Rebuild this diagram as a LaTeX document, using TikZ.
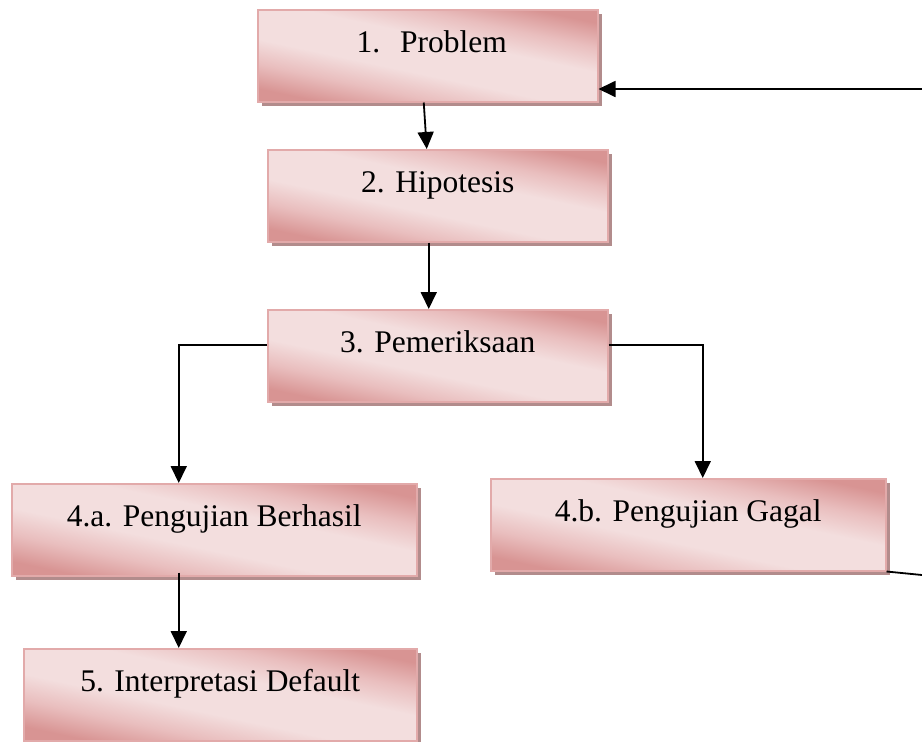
\documentclass[tikz,border=0pt]{standalone}
\usepackage{fontspec}
\setmainfont{Liberation Serif}
\usetikzlibrary{arrows.meta,shadows,calc}
\definecolor{pinkdark}{RGB}{216,148,147}
\definecolor{pinkmid}{RGB}{233,190,190}
\definecolor{pinklight}{RGB}{243,222,222}
\definecolor{pinkedge}{RGB}{226,170,170}
\definecolor{shadowcol}{RGB}{178,140,140}
\pgfdeclarehorizontalshading{pinkshade}{100bp}{color(0bp)=(pinkdark); color(25bp)=(pinkdark); color(34bp)=(pinkmid); color(43bp)=(pinklight); color(57bp)=(pinklight); color(66bp)=(pinkmid); color(75bp)=(pinkdark); color(100bp)=(pinkdark)}
\tikzset{
  stepbox/.style={draw=pinkedge, line width=1.5pt, shading=pinkshade, shading angle=78,
    anchor=north west, inner sep=0pt, text height=43pt, text depth=49pt, align=center,
    font=\fontsize{31.5}{36}\selectfont,
    drop shadow={shadow xshift=4pt, shadow yshift=-4pt, fill=shadowcol, opacity=1}},
  link/.style={draw=black, line width=1.8pt},
  arr/.style={link, -{Triangle[length=17pt,width=16pt]}}
}
\begin{document}
\begin{tikzpicture}[x=1pt,y=-1pt]
\useasboundingbox (0,0) rectangle (922,742);
\node[stepbox, minimum width=340pt] (p1) at (257,9) {\hspace{8pt}1.\hspace{20pt}Problem};
\node[stepbox, minimum width=340pt] (p2) at (267,149) {2. Hipotesis};
\node[stepbox, minimum width=340pt] (p3) at (267,309) {3. Pemeriksaan};
\node[stepbox, minimum width=405pt] (p4a) at (11,483) {4.a. Pengujian Berhasil};
\node[stepbox, minimum width=395pt] (p4b) at (490,478) {4.b. Pengujian Gagal};
\node[stepbox, minimum width=393pt] (p5) at (23,648) {5. Interpretasi Default};
\coordinate (in1) at (922,89);
\coordinate (out4b) at (922,575);
\draw[arr] ($(p1.south)+(-4,0)$) -- ($(p2.north)+(-11,0)$);
\draw[arr] ($(p2.south)+(-9,0)$) -- ($(p3.north)+(-9,0)$);
\draw[arr] ($(p3.north west)+(0,36)$) -| ($(p4a.north)+(-35.5,0)$);
\draw[arr] ($(p3.north east)+(0,36)$) -| ($(p4b.north)+(14.5,0)$);
\draw[arr] ($(p4a.south)+(-35.5,-4)$) -- ($(p5.north)+(-41.5,0)$);
\draw[link] (p4b.south east) -- (out4b);
\draw[arr] (in1) -- (p1.east |- in1);
\end{tikzpicture}
\end{document}
